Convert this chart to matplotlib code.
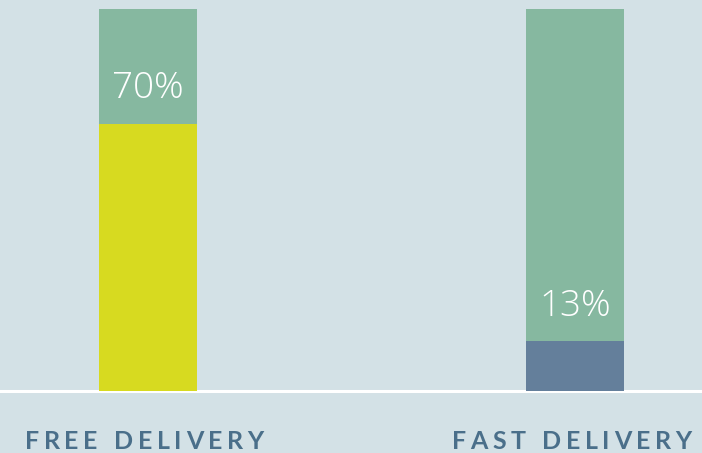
import numpy as np
import matplotlib.pyplot as plt

# delivery preference shares (percent)
categories = ['FREE DELIVERY', 'FAST DELIVERY']
share = [70, 13]
rest = [100 - v for v in share]
share_colors = ['#d7da20', '#647f9b']

bg = '#d3e1e6'
green = '#86b8a0'
label_color = '#4a6f8a'

fig = plt.figure(figsize=(7.02, 4.53), dpi=100, facecolor=bg)
ax = fig.add_axes([0, 62 / 453, 1, 382 / 453])
ax.set_facecolor(bg)

x = np.arange(len(categories))
width = 0.2295
ax.bar(x, share, width, color=share_colors, zorder=2)
ax.bar(x, rest, width, bottom=share, color=green, zorder=2)

for xi, v in zip(x, share):
    ax.text(xi, v + 6.7, f'{v}%', ha='center', va='baseline', color='white',
            fontsize=26.5, family='Open Sans', weight=300, zorder=3)

ax.axhline(0, color='white', lw=2.2, zorder=1, clip_on=False)
ax.set_xlim(-0.3466, 1.2974)
ax.set_ylim(0, 100)
ax.axis('off')

# spaced-out category captions, drawn letter by letter
renderer = fig.canvas.get_renderer()
def tracked_text(cx, cy, s, size, tracking):
    widths = []
    for ch in s:
        t = fig.text(0, 0, ch if ch != ' ' else 'n', fontsize=size, family='Lato', weight='bold')
        widths.append(t.get_window_extent(renderer).width * (0.55 if ch == ' ' else 1))
        t.remove()
    total = sum(widths) + tracking * (len(s) - 1)
    xpos = cx - total / 2
    for ch, w in zip(s, widths):
        fig.text(xpos / 702, cy / 453, ch, fontsize=size, family='Lato', weight='bold',
                 color=label_color, ha='left', va='baseline')
        xpos += w + tracking

for xi, name in zip(x, categories):
    px = ax.transData.transform((xi, 0))[0]
    tracked_text(px - 3.5, 453 - 449, name, 18, 4.5)

fig.savefig('out.png', dpi=100, facecolor=bg)
